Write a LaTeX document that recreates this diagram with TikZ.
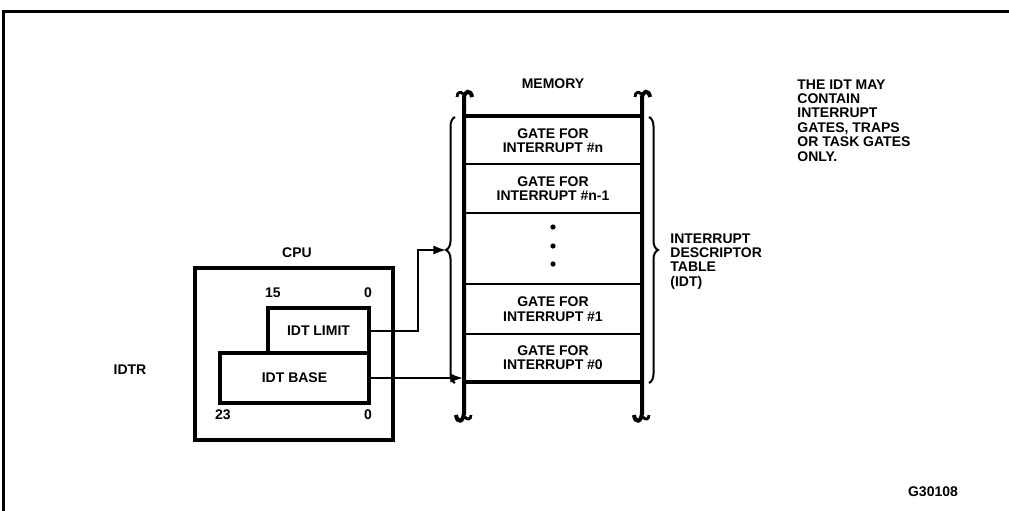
\documentclass[tikz,border=0pt]{standalone}
\usepackage{fontspec}
\setmainfont{Liberation Sans}
\usetikzlibrary{arrows.meta,decorations.pathreplacing}

\begin{document}
\begin{tikzpicture}[x=0.5pt, y=-0.5pt, >={Latex[length=2.2mm, width=1.6mm]},
	lbl/.style={font=\bfseries\fontsize{7}{7.2}\selectfont, inner sep=0pt},
	reg/.style={draw, line width=2pt, inner sep=0pt, font=\bfseries\fontsize{7}{7.2}\selectfont},
	row/.style={draw, line width=1pt, minimum width=89pt, inner sep=0pt, align=center, font=\bfseries\fontsize{7}{7.2}\selectfont},
	brc/.style={decorate, decoration={brace, amplitude=4.5pt}, line width=1pt}]
	\useasboundingbox (0,0) rectangle (1009,510);
	\draw[line width=1.5pt] (1012,11) -- (3,11) -- (3,512);
	% memory table
	\foreach \y/\h/\n/\t in {116/47/gn/{GATE FOR\\INTERRUPT \#n}, 163/49/gm/{GATE FOR\\INTERRUPT \#n-1}, 212/71/gd/{}, 283/50/g1/{GATE FOR\\INTERRUPT \#1}, 333/47/g0/{GATE FOR\\INTERRUPT \#0}}
		\node[row, anchor=north, minimum height=\h*0.5pt] (\n) at (553,\y) {\t};
	\foreach \y in {227,246,264}
		\fill (gd.center |- 0,\y) circle (2.6);
	\foreach \x in {464,642} {
		\draw[line width=2pt] (\x,414) -- (\x,98) .. controls (\x,91) and (\x+7,89) .. (\x+8,97);
		\draw[line width=1.4pt] (\x-7,97) .. controls (\x-7,92) and (\x-3,91) .. (\x-1,94);
		\draw[line width=2pt] (\x,412) .. controls (\x,422) and (\x-7,424) .. (\x-8,415);
		\draw[line width=1.4pt] (\x+1,417) .. controls (\x+3,420) and (\x+7,420) .. (\x+7,415);
	}
	\draw[line width=2pt] (gn.north west) -- (gn.north east);
	\draw[line width=2pt] (g0.south west) -- (g0.south east);
	\node[lbl] (mem) at (553,84) {MEMORY};
	\draw[brc] (455,383) -- (455,117);
	\draw[brc] (649,117) -- (649,383);
	\coordinate (tip) at (446,250);
	\node[lbl, align=left, anchor=north west] (idt) at (670,233) {INTERRUPT\\DESCRIPTOR\\TABLE\\(IDT)};
	\node[lbl, align=left, anchor=north west] (note) at (797,79) {THE IDT MAY\\CONTAIN\\INTERRUPT\\GATES, TRAPS\\OR TASK GATES\\ONLY.};
	% cpu register
	\node[reg, minimum width=99pt, minimum height=86pt] (cpu) at (294,354) {};
	\node[lbl] (cpul) at (297,253) {CPU};
	\node[reg, minimum width=74.5pt, minimum height=25pt] (base) at (294.5,378) {IDT BASE};
	\node[reg, minimum width=50.5pt, minimum height=22.5pt] (limit) at (318.5,330.5) {IDT LIMIT};
	\node[lbl] (b15) at (273,293) {15};
	\node[lbl] (b0a) at (368,293) {0};
	\node[lbl] (b23) at (223,415) {23};
	\node[lbl] (b0b) at (368,415) {0};
	\node[lbl] (idtr) at (130,370) {IDTR};
	\draw[->, line width=1pt] (limit.east) -- ++(47,0) |- (tip);
	\draw[->, line width=1pt] (base.east) -- (base.east -| g0.west);
	\node[lbl] (fig) at (933,492) {G30108};
\end{tikzpicture}
\end{document}
